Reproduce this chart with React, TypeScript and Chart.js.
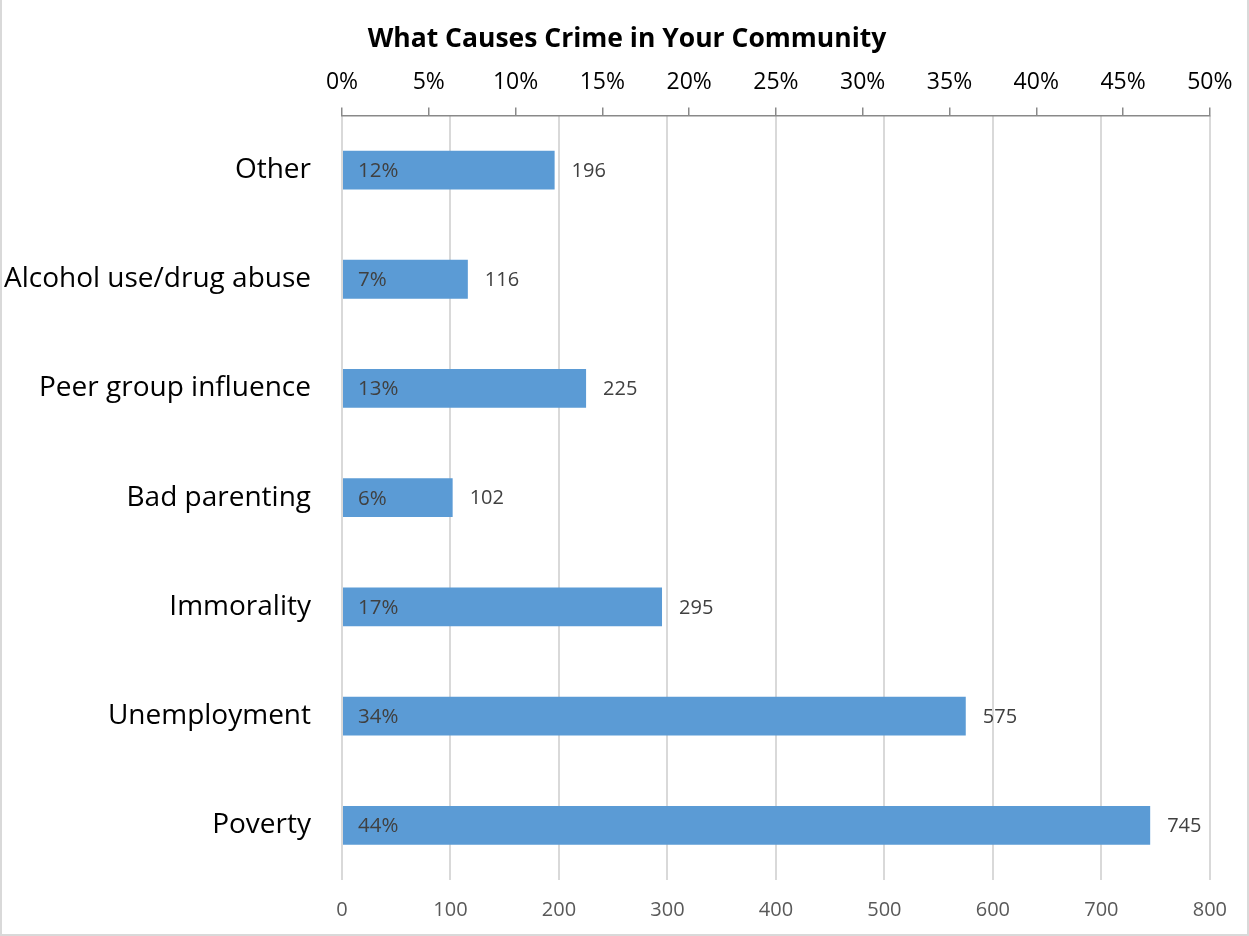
import React, { useEffect, useRef } from "react";
import { Chart, registerables } from "chart.js";

Chart.register(...registerables);

const categories = [
  "Other",
  "Alcohol use/drug abuse",
  "Peer group influence",
  "Bad parenting",
  "Immorality",
  "Unemployment",
  "Poverty",
];
const counts = [196, 116, 225, 102, 295, 575, 745];
const percentLabels = ["12%", "7%", "13%", "6%", "17%", "34%", "44%"];
const countTicks = [0, 100, 200, 300, 400, 500, 600, 700, 800];
const percentTicks = [0, 0.05, 0.1, 0.15, 0.2, 0.25, 0.3, 0.35, 0.4, 0.45, 0.5];
const titleText = "What Causes Crime in Your Community";

const FONT = "'Open Sans', 'Noto Sans', sans-serif";

const labelPlugin = {
  id: "barLabels",
  afterDatasetsDraw(chart: any) {
    const ctx = chart.ctx;
    const meta = chart.getDatasetMeta(0);
    ctx.save();
    ctx.fillStyle = "#404040";
    ctx.textBaseline = "middle";
    ctx.textAlign = "left";
    meta.data.forEach((bar: any, i: number) => {
      ctx.font = `20.5px ${FONT}`;
      ctx.fillText(percentLabels[i], bar.base + 15, bar.y + 1);
      ctx.font = `20px ${FONT}`;
      ctx.fillText(String(counts[i]), bar.x + 17, bar.y + 1);
    });
    ctx.restore();
  },
  afterDraw(chart: any) {
    const ctx = chart.ctx;
    ctx.save();
    ctx.fillStyle = "#000000";
    ctx.font = `bold 26.5px ${FONT}`;
    ctx.textAlign = "center";
    ctx.textBaseline = "middle";
    ctx.fillText(titleText, 627, 39);
    ctx.restore();
  },
};

export default function App() {
  const ref = useRef<HTMLCanvasElement>(null);
  useEffect(() => {
    if (!ref.current) return;
    const chart = new Chart(ref.current, {
      type: "bar",
      data: {
        labels: categories,
        datasets: [
          {
            data: counts,
            backgroundColor: "#5B9BD5",
            borderWidth: 0,
            categoryPercentage: 1,
            barPercentage: 0.355,
            xAxisID: "x",
          },
        ],
      },
      options: {
        indexAxis: "y",
        animation: false,
        responsive: false,
        layout: { padding: { left: 0, right: 31, top: 0, bottom: 0 } },
        plugins: {
          legend: { display: false },
          tooltip: { enabled: false },
          title: {
            display: true,
            text: titleText,
            color: "rgba(0,0,0,0)",
            font: { family: FONT, size: 26.5, weight: "bold" },
            padding: { top: 22, bottom: 4 },
          },
        },
        scales: {
          x: {
            position: "bottom",
            min: 0,
            max: 800,
            afterBuildTicks(scale: any) {
              scale.ticks = countTicks.map((v) => ({ value: v }));
            },
            afterFit(scale: any) {
              scale.height = 54;
            },
            grid: { color: "#d9d9d9", lineWidth: 2, drawTicks: false },
            border: { display: false },
            ticks: {
              color: "#595959",
              font: { family: FONT, size: 20 },
              padding: 18,
            },
          },
          x2: {
            position: "top",
            min: 0,
            max: 0.5,
            afterBuildTicks(scale: any) {
              scale.ticks = percentTicks.map((v) => ({ value: v }));
            },
            grid: {
              drawOnChartArea: false,
              drawTicks: true,
              tickLength: 8,
              color: "#898989",
              lineWidth: 1.5,
            },
            border: { display: true, color: "#898989", width: 1.5 },
            ticks: {
              color: "#000000",
              font: { family: FONT, size: 23 },
              padding: 11,
              callback: (v: any) => Math.round(Number(v) * 100) + "%",
            },
          },
          y: {
            grid: { display: false },
            border: { display: false },
            afterFit(scale: any) {
              scale.width = 342;
            },
            ticks: {
              color: "#000000",
              font: { family: FONT, size: 28 },
              padding: 23,
            },
          },
        },
      },
      plugins: [labelPlugin],
    } as any);
    return () => chart.destroy();
  }, []);
  return (
    <div
      style={{
        position: "fixed",
        left: 0,
        top: 0,
        width: 1249,
        height: 936,
        boxSizing: "border-box",
        borderLeft: "2px solid #d9d9d9",
        borderRight: "2px solid #d9d9d9",
        borderBottom: "2px solid #d9d9d9",
        background: "#ffffff",
      }}
    >
      <canvas
        ref={ref}
        width={1245}
        height={934}
        style={{ position: "absolute", left: -2, top: 0 }}
      />
    </div>
  );
}
